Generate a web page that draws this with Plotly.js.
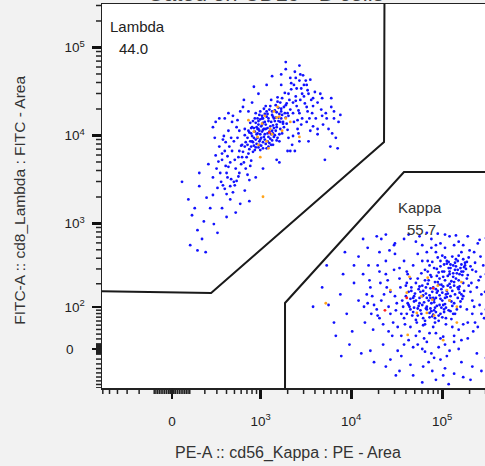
<!DOCTYPE html>
<html><head><meta charset="utf-8">
<script src="https://cdn.plot.ly/plotly-3.0.1.min.js"></script>
<style>html,body{margin:0;padding:0;overflow:hidden;background:#f2f2f2}#chart{width:510px;height:466px}</style>
</head><body><div id="chart"></div>
<script>
// Events in display channels of the biexponential scale (hundredths of a decade from zero)
// [PE-A channel, FITC-A channel]
const lambdaEvents = [
[98,240],[105,251],[88,236],[112,262],[95,229],[120,270],[102,258],[91,247],[108,239],[115,255],
[84,222],[99,265],[110,248],[93,252],[118,244],[126,279],[103,233],[87,245],[113,271],[97,244],
[106,262],[80,230],[122,258],[100,249],[90,231],[116,281],[109,232],[95,259],[125,263],[101,241],
[77,218],[104,270],[119,250],[92,238],[111,254],[86,257],[130,272],[97,226],[107,247],[115,237],
[83,240],[121,285],[100,262],[94,245],[110,266],[89,224],[127,268],[103,250],[117,259],[96,236],
[74,225],[108,276],[113,243],[91,262],[105,236],[123,275],[99,255],[87,230],[114,263],[102,244],
[79,212],[118,267],[95,250],[106,230],[128,290],[92,257],[111,245],[84,248],[120,262],[100,228],
[133,280],[97,270],[88,242],[109,258],[116,240],[93,233],[124,268],[104,264],[81,235],[112,251],
[99,247],[107,272],[90,251],[119,280],[96,232],[126,256],[85,227],[114,248],[102,267],[94,240],
[131,295],[76,231],[110,237],[121,266],[98,253],[89,235],[117,274],[105,245],[92,268],[127,249],
[82,218],[103,255],[115,269],[97,238],[109,283],[87,251],[123,252],[100,235],[113,259],[94,262],
[136,287],[80,243],[106,241],[119,258],[91,226],[101,273],[111,264],[96,248],[125,277],[86,236],
[108,253],[118,236],[93,244],[104,228],[129,283],[99,262],[85,246],[114,277],[89,259],[121,245],
[102,238],[110,270],[95,255],[117,263],[78,224],[106,259],[124,291],[92,229],[112,241],[100,257],
[87,214],[120,273],[97,261],[107,234],[115,252],[83,232],[128,265],[103,276],[94,250],[109,244],
[133,268],[90,240],[101,250],[116,286],[98,231],[105,267],[122,256],[88,252],[111,232],[96,266],
[60,200],[145,300],[55,215],[150,290],[68,190],[140,305],[52,230],[62,268],[65,240],[138,250],
[72,260],[148,275],[45,195],[152,248],[58,182],[135,315],[66,225],[155,285],[49,205],[143,262],
[70,205],[152,306],[62,248],[139,271],[56,186],[160,280],[75,270],[130,308],[64,212],[133,242],
[48,220],[158,262],[73,196],[141,283],[59,235],[154,268],[67,178],[137,296],[53,200],[148,300],
[142,255],[71,252],[149,294],[61,219],[136,308],[74,200],[163,290],[57,242],[146,279],[69,186],
[132,232],[78,275],[151,262],[63,230],[144,311],[54,190],[155,253],[76,210],[140,268],[66,258],
[169,268],[51,213],[134,300],[72,240],[153,283],[60,176],[138,260],[79,283],[147,305],[58,225],
[155,276],[69,215],[130,225],[81,205],[143,290],[65,193],[166,255],[74,248],[136,282],[50,183],
[128,240],[84,270],[149,270],[62,207],[157,292],[77,232],[141,312],[56,238],[134,258],[71,191],
[145,287],[83,198],[165,285],[67,265],[139,245],[59,208],[120,312],[80,250],[131,302],[64,185],
[148,258],[73,218],[48,258],[61,195],[137,276],[86,208],[164,272],[68,236],[142,296],[55,222],
[25,160],[35,145],[18,170],[30,185],[42,160],[28,135],[38,172],[22,152],[45,175],[33,125],
[178,262],[175,285],[175,275],[172,250],[180,240],[178,270],[183,258],[160,244],[165,265],[174,230],
[40,210],[47,240],[30,200],[88,280],[95,290],[85,192],[100,205],[120,300],[127,225],[115,215],
[20,118],[46,142],[55,160],[37,110],[64,170],[80,180],[92,195],[75,165],[58,262],[150,236],
[110,310],[125,318],[90,298],[104,300],[135,225],[140,236],[170,262],[160,250],[45,252],[52,262],
[11,190],[28,112],[60,150],[85,168],[118,212],[185,266],[140,322],[125,326],[50,132],[70,155],
[168,215],[182,228],[176,245]
];
const lambdaHot = [[115,263],[118,264],[130,258],[94,241],[97,218],[100,173],[84,260],[140,241],[108,250],[112,270],
[104,236],[121,248],[99,256],[106,228],[116,275],[90,247],[110,244],[125,262],[102,265],[95,232]];
const lambdaPeak = [[107,246]];

const kappaEvents = [
[290,58],[275,50],[302,66],[283,41],[310,72],[268,55],[296,47],[287,70],[305,55],[279,63],
[312,80],[262,45],[293,38],[300,78],[271,68],[318,62],[285,52],[297,88],[276,35],[308,49],
[281,74],[314,90],[266,60],[295,57],[289,30],[303,83],[273,44],[320,75],[286,65],[299,42],
[259,52],[306,60],[292,76],[278,28],[315,68],[270,80],[301,35],[284,58],[322,95],[294,50],
[264,38],[309,86],[288,44],[275,72],[317,54],[297,64],[280,48],[304,92],[269,30],[291,83],
[313,45],[283,36],[298,71],[272,58],[307,77],[287,25],[319,84],[263,66],[295,40],[302,59],
[277,53],[311,98],[290,68],[266,47],[300,51],[285,82],[316,71],[274,40],[294,61],[306,43],
[281,88],[324,80],[262,57],[293,32],[308,66],[271,49],[299,96],[288,56],[314,58],[279,70],
[296,73],[265,42],[305,85],[284,46],[321,66],[276,61],[301,28],[291,91],[310,52],[268,75],
[287,39],[318,88],[273,65],[297,55],[309,40],[282,78],[326,72],[260,50],[303,63],[289,47],
[312,94],[278,32],[294,80],[267,63],[306,70],[285,43],[320,60],[274,86],[299,45],[291,64],
[258,40],[315,78],[288,53],[302,100],[280,58],[307,34],[270,46],[296,68],[317,48],[283,61],
[305,74],[276,27],[293,87],[263,70],[311,62],[286,37],[323,91],[272,52],[300,58],[289,76],
[280,45],[309,82],[297,36],[266,54],[314,70],[284,84],[301,47],[270,38],[292,66],[319,57],
[275,60],[306,96],[290,42],[261,48],[303,72],[287,58],[325,84],[278,78],[298,50],[311,40],
[284,69],[316,64],[268,33],[295,94],[307,54],[279,46],[293,73],[272,71],[320,102],[301,62],
[289,35],[313,86],[265,58],[304,44],[282,55],[298,82],[276,66],[310,76],[291,49],[318,96],
[308,105],[314,100],[322,98],[317,92],[311,90],[326,104],[304,99],[320,88],[328,94],[315,106],
[300,104],[309,95],[324,99],[312,102],[318,110],[306,92],[330,90],[316,85],[302,97],[321,93],
[288,92],[295,100],[283,95],[299,88],[292,104],[286,99],[278,90],[297,106],[305,88],[281,100],
[240,40],[335,70],[230,55],[345,85],[248,25],[338,50],[236,70],[350,60],[252,15],[332,110],
[245,60],[340,40],[228,35],[342,95],[250,80],[333,30],[238,48],[355,75],[255,5],[336,120],
[222,50],[347,55],[243,30],[339,105],[257,72],[331,20],[233,62],[352,90],[246,44],[344,65],
[260,10],[318,10],[275,0],[300,5],[285,-5],[310,15],[268,15],[295,12],[280,8],[305,-2],
[290,18],[272,20],[315,22],[262,25],[298,14],[283,18],[308,25],[277,12],[293,2],[320,28],
[265,95],[275,100],[258,88],[280,110],[255,100],[270,108],[285,115],[262,80],[290,118],[250,92],
[225,45],[232,28],[240,65],[229,75],[247,52],[235,85],[220,60],[244,90],[238,20],[226,38],
[337,78],[345,45],[352,70],[340,62],[358,80],[334,88],[348,100],[330,55],[343,35],[356,110],
[330,40],[328,65],[325,30],[333,98],[327,112],[336,25],[329,75],[324,45],[339,82],[332,48],
[255,35],[257,60],[251,70],[254,48],[259,85],[256,28],[253,55],[258,75],[252,40],[260,65],
[300,115],[295,120],[310,118],[285,125],[305,128],[275,118],[315,122],[290,110],[268,122],[320,118],
[270,5],[288,-10],[302,-8],[315,0],[325,12],[278,-3],[295,-12],[310,8],[265,2],[282,-15],
[350,30],[360,50],[354,20],[362,95],[348,15],[357,65],[346,120],[361,38],[353,105],[359,82],
[235,100],[245,108],[228,88],[242,15],[248,-2],[232,5],[239,112],[226,95],[244,118],[237,78],
[212,30],[218,70],[215,52],[210,85],[219,40],[214,62],[221,22],[216,95],[211,48],[217,78],
[155,48],[172,50],[185,62],[192,40],[178,30],[200,75],[198,20],[205,55],[188,85],[165,70],
[250,-25],[265,-30],[290,-35],[310,-28],[330,-20],[345,-10],[275,-38],[300,-22],[320,-32],[240,-12],
[205,105],[215,115],[230,125],[260,130],[280,132],[300,130],[325,128],[345,126],[365,125],[200,95],
[362,10],[368,45],[370,80],[365,-5],[366,110],[340,-25],[355,-5],[369,60],[363,128],[358,124],
[195,5],[208,-5],[222,-15],[235,-20],[180,15],[170,95],[190,110],[210,125],[186,-8],[225,128],
[245,120],[255,125],[235,130],[272,128],[292,131],[312,129],[338,124],[350,128],[228,110],[218,-2],
[276,-20],[298,-30],[318,-15],[262,-18],[335,-5],[304,-40],[286,-25],[252,-8],[328,-35],[246,-30]
];
const kappaHot = [[169,52],[261,82],[240,67],[281,81],[302,67],[286,56],[313,48],[269,41],[298,10],[259,16],
[313,30],[258,64],[280,41],[292,72],[305,55],[274,60],[318,76],[288,38]];
const kappaPeak = [[258,58],[234,44],[287,69]];

// Gate vertices, display channels
const lambdaGate = [[-90,66],[43,63.6],[233,235.2],[233.5,410]];
const kappaGate = [[124.2,-60],[124.2,52.3],[254.9,201.1],[420,201.1]];
const gateNames = ['Lambda','Kappa'];
const gatePercents = ['44.0','55.7'];

// Axis ticks (intensity values)
const xMajorVals = [0, 1e3, 1e4, 1e5];
const xMajorText = ['0','10<sup>3</sup>','10<sup>4</sup>','10<sup>5</sup>'];
const yMajorVals = [0, 1e2, 1e3, 1e4, 1e5];
const yMajorText = ['0\u00a0\u00a0\u00a0','10<sup>2</sup>','10<sup>3</sup>','10<sup>4</sup>','10<sup>5</sup>'];

// biexponential (arcsinh) display transforms -> channels
const Tx = v => Math.asinh(v/215)/Math.LN10*100;
const Ty = v => Math.asinh(v/75)/Math.LN10*100;
const xRange = [-76.9, 371.4];
const yRange = [-44.3, 392];

function minorTicks(T, range, majors){
  const out = [];
  for (let k=0;k<=5;k++) for (let m=1;m<=9;m++) for (const s of [1,-1]) {
    const v = s*m*Math.pow(10,k);
    const c = T(v);
    if (c>range[0] && c<range[1] && !majors.includes(v)) out.push(c);
  }
  return out;
}

const F = 'Liberation Sans, Arial, sans-serif';
const col = (arr,i) => arr.map(p=>p[i]);
function pts(arr, color){
  return {type:'scatter', mode:'markers', x:col(arr,0), y:col(arr,1), hoverinfo:'skip',
    marker:{size:2.8, color:color, line:{width:0}}, showlegend:false};
}
function gate(arr){
  return {type:'scatter', mode:'lines', x:col(arr,0), y:col(arr,1), hoverinfo:'skip',
    line:{color:'#1a1a1a', width:2}, showlegend:false};
}

const traces = [
  pts(lambdaEvents,'#1212ff'), pts(kappaEvents,'#1212ff'),
  pts(lambdaHot,'#ffa31a'), pts(kappaHot,'#ffa31a'),
  pts(lambdaPeak,'#ff2020'), pts(kappaPeak,'#ff2020'),
  gate(lambdaGate), gate(kappaGate)
];

// minor tick marks placed through the axes
const shapes = [];
minorTicks(Tx, xRange, xMajorVals).forEach(c => shapes.push(
  {type:'line', xref:'x', yref:'paper', ysizemode:'pixel', yanchor:0, x0:c, x1:c, y0:0, y1:-6, line:{color:'#222', width:1.5}}));
minorTicks(Ty, yRange, yMajorVals).forEach(c => shapes.push(
  {type:'line', yref:'y', xref:'paper', xsizemode:'pixel', xanchor:0, y0:c, y1:c, x0:0, x1:-6, line:{color:'#222', width:1.5}}));

const axisCommon = {
  showgrid:false, zeroline:false, showline:true, linecolor:'#222', linewidth:1.5, mirror:true,
  ticks:'outside', ticklen:9, tickwidth:2.8, tickcolor:'#111', fixedrange:true,
  tickfont:{family:F, size:13.5, color:'#222'}, tickmode:'array'
};

const layout = {
  width:510, height:466,
  margin:{l:102, r:0, t:4, b:78},
  paper_bgcolor:'#f2f2f2', plot_bgcolor:'#ffffff',
  xaxis: Object.assign({}, axisCommon, {
    range:xRange, tickvals:xMajorVals.map(Tx), ticktext:xMajorText, ticklabelstandoff:11
  }),
  yaxis: Object.assign({}, axisCommon, {
    range:yRange, tickvals:yMajorVals.map(Ty), ticktext:yMajorText, ticklabelstandoff:4
  }),
  shapes: shapes,
  annotations:[
    {text:gateNames[0], x:-70.3, y:367, xref:'x', yref:'y', xanchor:'left', showarrow:false, font:{family:F,size:15,color:'#222'}},
    {text:gatePercents[0], x:-41.8, y:342, xref:'x', yref:'y', showarrow:false, font:{family:F,size:15,color:'#222'}},
    {text:gateNames[1], x:272.5, y:161, xref:'x', yref:'y', showarrow:false, font:{family:F,size:15,color:'#333'}},
    {text:gatePercents[1], x:274.7, y:136, xref:'x', yref:'y', showarrow:false, font:{family:F,size:15,color:'#333'}},
    {text:'FITC-A :: cd8_Lambda : FITC - Area', xref:'paper', yref:'paper', x:-0.201, y:0.49, xanchor:'center', yanchor:'middle', textangle:-90, showarrow:false, font:{family:F,size:15.5,color:'#333'}},
    {text:'PE-A :: cd56_Kappa : PE - Area', xref:'paper', yref:'paper', x:0.456, y:-0.169, xanchor:'center', yanchor:'middle', showarrow:false, font:{family:F,size:16,color:'#333'}},
    {text:'Gated on CD19+ B cells', xref:'paper', yref:'paper', x:0.4, y:1, xanchor:'center', yanchor:'bottom', yshift:-4, showarrow:false, font:{family:F,size:22,color:'#444'}}
  ]
};

Plotly.newPlot('chart', traces, layout, {staticPlot:true, displayModeBar:false});
</script>
</body></html>
